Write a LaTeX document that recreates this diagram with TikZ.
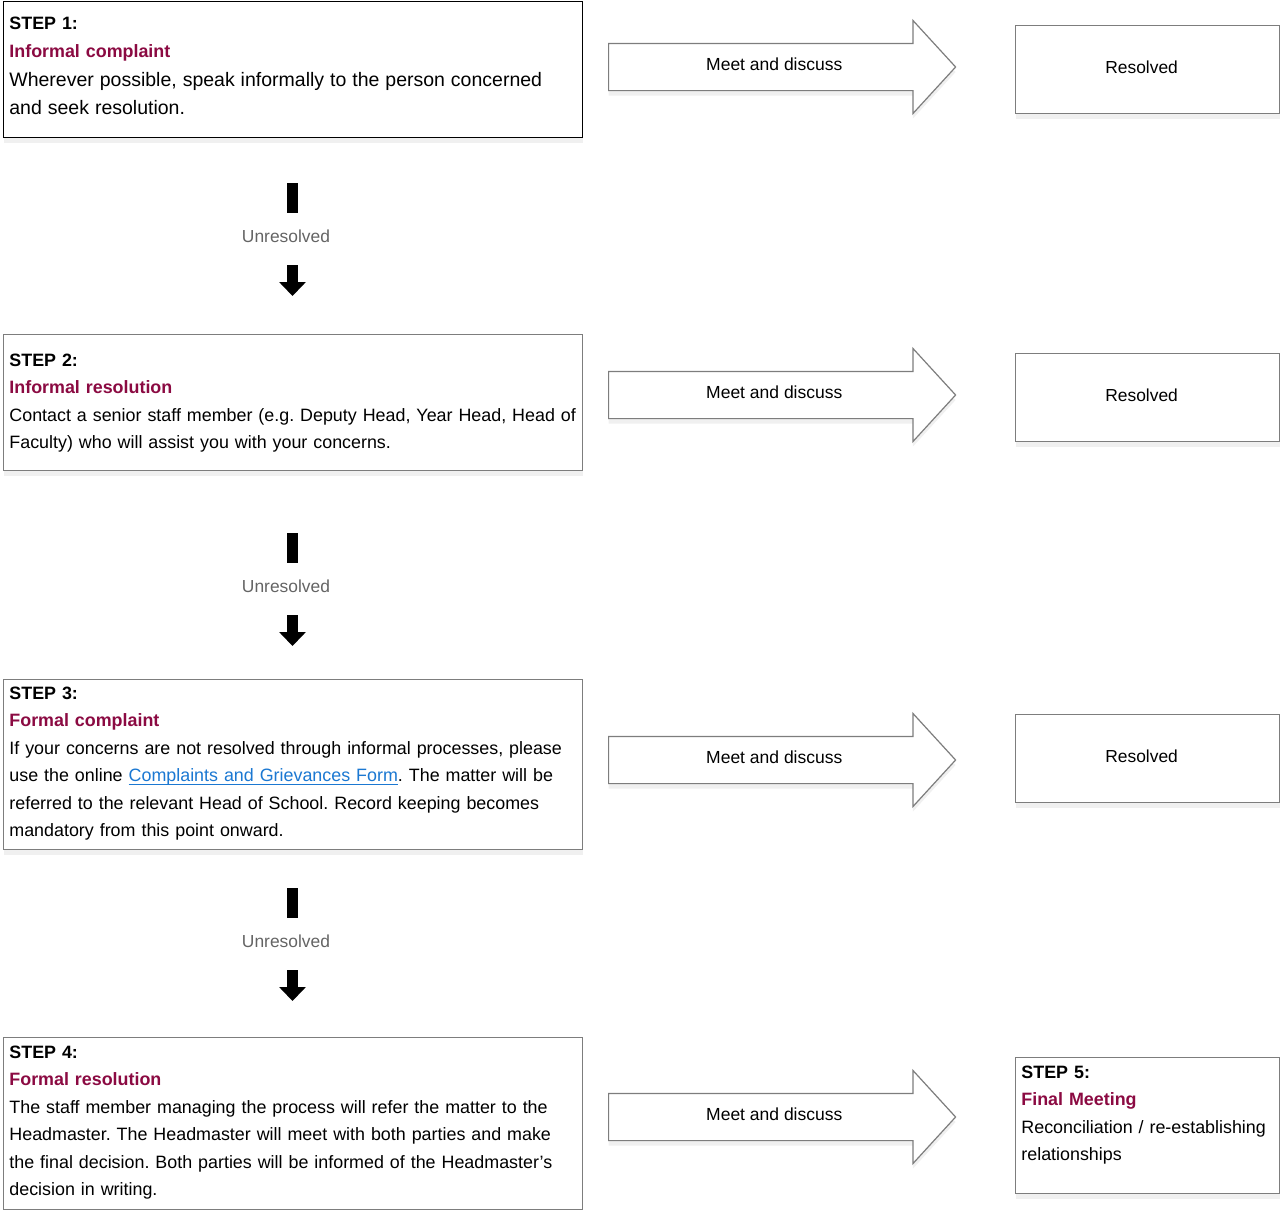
\documentclass[tikz,border=0pt]{standalone}
\usepackage{fontspec}
\setmainfont{Liberation Sans}
\usetikzlibrary{shapes.arrows,shadows,arrows.meta}
\definecolor{stepred}{RGB}{139,10,66}
\definecolor{linkblue}{RGB}{27,120,210}
\definecolor{boxgray}{RGB}{125,125,125}
\definecolor{labelgray}{RGB}{100,100,100}
\tikzset{
	card/.style={draw=boxgray,fill=white,line width=0.6pt,anchor=north west,inner sep=0pt,
		drop shadow={shadow xshift=0pt,shadow yshift=-2.5pt,opacity=0.12}},
	cardtext/.style={anchor=north west,inner sep=0pt,align=left,text width=300pt,
		font=\fontsize{8.94pt}{13.75pt}\selectfont},
	resolved/.style={card,minimum width=132pt,minimum height=44pt,
		font=\fontsize{8.7pt}{10pt}\selectfont,text depth=2pt,execute at end node=\hskip6pt},
	meet/.style={single arrow,draw=boxgray,fill=white,line width=0.6pt,anchor=tail,
		minimum height=173.5pt,minimum width=46pt,single arrow head extend=11.5pt,
		single arrow tip angle=95,single arrow head indent=0pt,inner ysep=6.8pt,
		font=\fontsize{8.75pt}{10pt}\selectfont,text height=6.4pt,text depth=3pt,
		execute at begin node=\hskip3pt,
		drop shadow={shadow xshift=0pt,shadow yshift=-2.5pt,opacity=0.12}},
	unres/.style={text=labelgray,font=\fontsize{8.7pt}{10pt}\selectfont,
		text height=8pt,text depth=5pt,inner xsep=0pt,inner ysep=6.5pt},
	bar/.style={line width=5.25pt},
}
\newcommand{\steptitle}[2]{\strut\textbf{STEP #1:}\\\textcolor{stepred}{\textbf{#2}}\\}
\newcommand{\weblink}[1]{\textcolor{linkblue}{\setbox0\hbox{#1}\rlap{\rule[-1.6pt]{\wd0}{0.5pt}}\box0}}
\frenchspacing

\begin{document}
\begin{tikzpicture}[x=0.5pt,y=-0.5pt]
		\useasboundingbox (0,0) rectangle (1281,1210);

		\node[card,draw=black,minimum width=289.5pt,minimum height=68pt] (s1) at (3,1) {};
		\node[card,minimum width=289.5pt,minimum height=68pt] (s2) at (3,334) {};
		\node[card,minimum width=289.5pt,minimum height=85pt] (s3) at (3,679) {};
		\node[card,minimum width=289.5pt,minimum height=86pt] (s4) at (3,1037) {};
		\node[card,minimum width=132pt,minimum height=68pt] (s5) at (1015,1057) {};

		\node[cardtext,font=\fontsize{8.94pt}{14.25pt}\selectfont] (t1) at (9,8.95) {\steptitle{1}{Informal complaint}
			{\fontsize{9.75pt}{14.25pt}\selectfont Wherever possible, speak informally to the person concerned\\
			and seek resolution.}};
		\node[cardtext] (t2) at (9,346.65) {\steptitle{2}{Informal resolution}
			Contact a senior staff member (e.g. Deputy Head, Year Head, Head of\\
			Faculty) who will assist you with your concerns.};
		\node[cardtext] (t3) at (9,679.65) {\steptitle{3}{Formal complaint}
			If your concerns are not resolved through informal processes, please\\
			use the online \weblink{Complaints and Grievances Form}. The matter will be\\
			referred to the relevant Head of School. Record keeping becomes\\
			mandatory from this point onward.};
		\node[cardtext] (t4) at (9,1038.65) {\steptitle{4}{Formal resolution}
			The staff member managing the process will refer the matter to the\\
			Headmaster. The Headmaster will meet with both parties and make\\
			the final decision. Both parties will be informed of the Headmaster’s\\
			decision in writing.};
		\node[cardtext,text width=130pt] (t5) at (1021,1058.65) {\steptitle{5}{Final Meeting}
			Reconciliation / re-establishing\\
			relationships};

		\foreach \i/\y in {1/25,2/353,3/714}
		\node[resolved] (r\i) at (1015,\y) {Resolved};

		\foreach \i/\y in {1/67,2/395,3/760,4/1117}
		\node[meet] (m\i) at (608,\y) {Meet and discuss};

		\foreach \i/\t in {1/183,2/533,3/888}{
			\coordinate (b\i) at (292.5,\t);
			\coordinate (e\i) at (292.5,\t+113);
			\node[unres] (u\i) at (286,\t+56) {Unresolved};
			\draw[bar] (b\i) -- (b\i |- u\i.north);
			\draw[bar,-{Triangle[width=13pt,length=7pt]}] (b\i |- u\i.south) -- (e\i);
		}

	    \end{tikzpicture}
\end{document}
